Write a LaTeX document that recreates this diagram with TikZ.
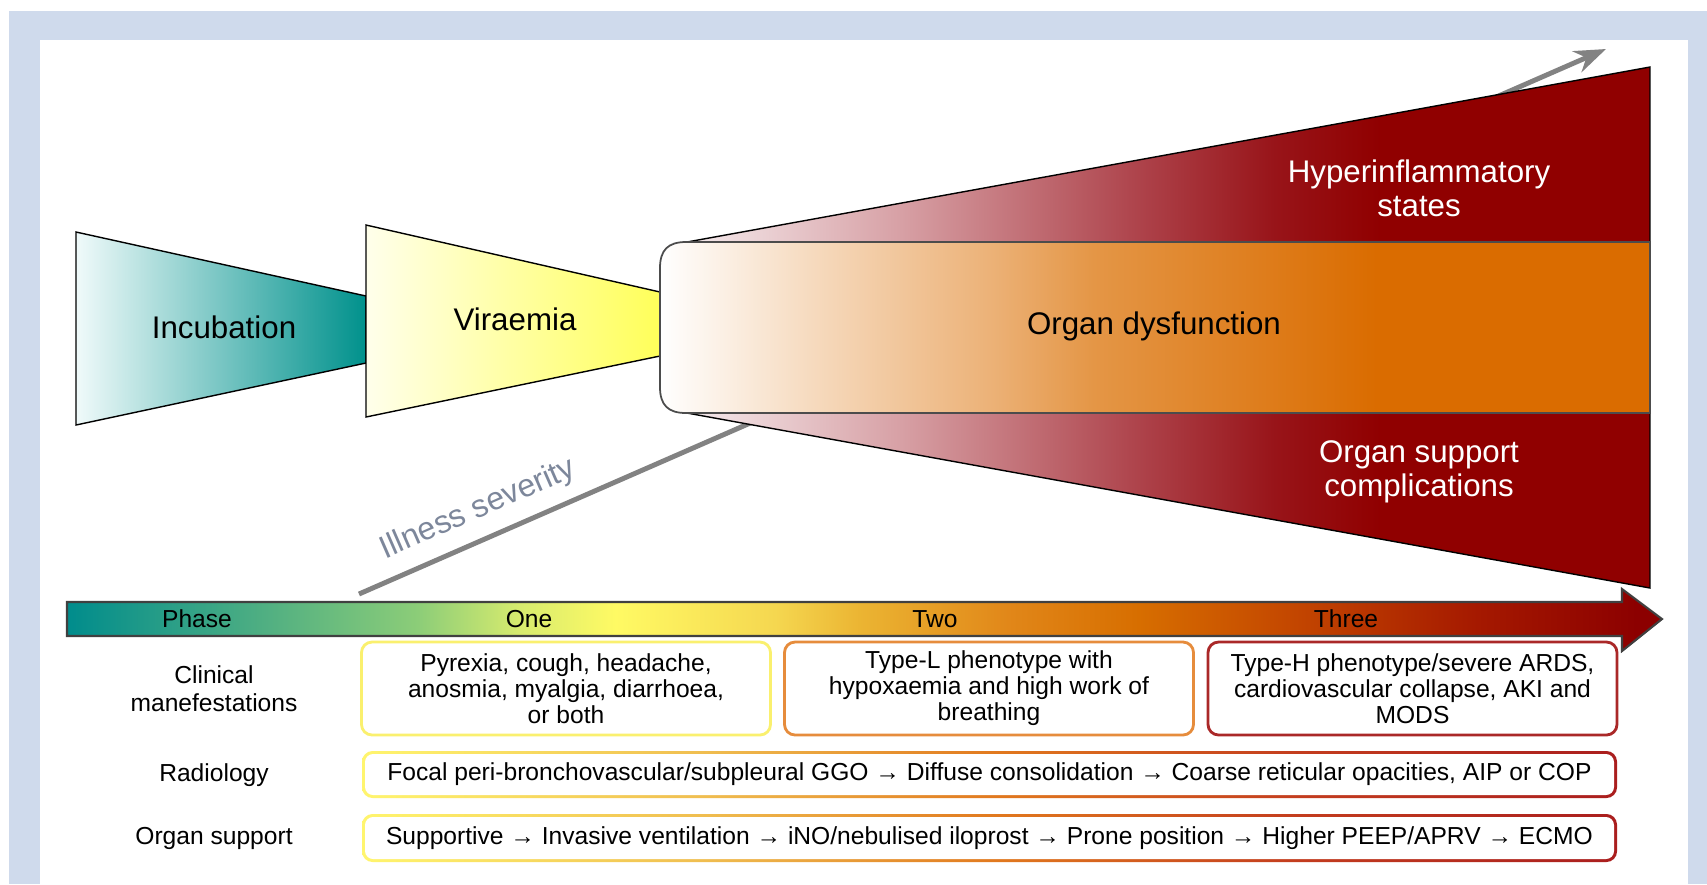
\documentclass[tikz,border=0pt]{standalone}
\usepackage{fontspec}
\setmainfont{Liberation Sans}
\usetikzlibrary{positioning, arrows.meta}

\definecolor{framebg}{RGB}{207,218,236}
\definecolor{sevgray}{RGB}{130,130,130}
\definecolor{sevtext}{RGB}{125,135,155}
\definecolor{incubL}{RGB}{240,250,250}
\definecolor{incubR}{RGB}{0,145,140}
\definecolor{viraL}{RGB}{255,255,235}
\definecolor{viraR}{RGB}{255,255,90}
\definecolor{fanA}{RGB}{245,235,237}
\definecolor{fanB}{RGB}{215,160,165}
\definecolor{fanC}{RGB}{175,70,78}
\definecolor{fanD}{RGB}{152,20,25}
\definecolor{dkred}{RGB}{144,0,0}
\definecolor{bandB}{RGB}{246,218,190}
\definecolor{bandC}{RGB}{236,178,120}
\definecolor{bandD}{RGB}{228,150,70}
\definecolor{orng}{RGB}{218,108,0}
\definecolor{phA}{RGB}{0,140,140}
\definecolor{phB}{RGB}{80,175,130}
\definecolor{phC}{RGB}{140,205,120}
\definecolor{phD}{RGB}{215,235,110}
\definecolor{phE}{RGB}{255,250,100}
\definecolor{phF}{RGB}{245,215,80}
\definecolor{phG}{RGB}{235,180,50}
\definecolor{phH}{RGB}{225,135,25}
\definecolor{phI}{RGB}{215,110,0}
\definecolor{phJ}{RGB}{195,70,0}
\definecolor{phK}{RGB}{165,25,0}
\definecolor{phL}{RGB}{140,0,0}
\definecolor{edgeA}{RGB}{255,245,110}
\definecolor{edgeB}{RGB}{240,190,80}
\definecolor{edgeC}{RGB}{225,120,30}
\definecolor{edgeD}{RGB}{195,60,30}
\definecolor{edgeE}{RGB}{170,30,30}
\definecolor{boxyellow}{RGB}{250,240,110}
\definecolor{boxorange}{RGB}{230,140,60}
\definecolor{boxred}{RGB}{170,40,40}

% path bounding box goes onto 25bp..75bp
\pgfdeclarehorizontalshading{incubshade}{100bp}{color(0bp)=(incubL); color(25bp)=(incubL); color(75bp)=(incubR); color(100bp)=(incubR)}
\pgfdeclarehorizontalshading{virashade}{100bp}{color(0bp)=(viraL); color(25bp)=(viraL); color(75bp)=(viraR); color(100bp)=(viraR)}
\pgfdeclarehorizontalshading{fanshade}{100bp}{color(0bp)=(fanA); color(25bp)=(fanA); color(36.1bp)=(fanB); color(48bp)=(fanC); color(55.5bp)=(fanD); color(61bp)=(dkred); color(100bp)=(dkred)}
\pgfdeclarehorizontalshading{bandshade}{100bp}{color(0bp)=(white); color(25bp)=(white); color(32.7bp)=(bandB); color(41.6bp)=(bandC); color(46.9bp)=(bandD); color(61.2bp)=(orng); color(100bp)=(orng)}
\pgfdeclarehorizontalshading{phaseshade}{100bp}{color(0bp)=(phA); color(25bp)=(phA); color(31.2bp)=(phB); color(36bp)=(phC); color(39.2bp)=(phD); color(42.2bp)=(phE); color(47.2bp)=(phF); color(49.9bp)=(phG); color(54.5bp)=(phH); color(58.6bp)=(phI); color(63.5bp)=(phJ); color(69.2bp)=(phK); color(74.2bp)=(phL); color(100bp)=(phL)}
\pgfdeclarehorizontalshading{edgeshade}{100bp}{color(0bp)=(edgeA); color(25bp)=(edgeA); color(38.5bp)=(edgeB); color(50.4bp)=(edgeC); color(62.4bp)=(edgeD); color(75bp)=(edgeE); color(100bp)=(edgeE)}

\tikzset{
    stage/.style={draw=black, line width=0.4pt},
    biglbl/.style={font=\fontsize{8.9}{9.7}\selectfont, align=center},
    whitelbl/.style={biglbl, text=white},
    smalllbl/.style={font=\fontsize{7}{7.4}\selectfont, align=center},
    rowlbl/.style={font=\fontsize{7}{8}\selectfont, align=center},
    clinbox/.style={smalllbl, rounded corners=3pt, line width=0.8pt, fill=white, minimum width=40.9mm, minimum height=9.3mm, inner sep=0pt},
    sevarrow/.style={draw=sevgray, line width=1.4pt, -{Stealth[length=9pt, width=6.5pt]}}
}

\begin{document}
\begin{tikzpicture}[x=0.1mm, y=-0.1mm]
    \useasboundingbox (0, 0) rectangle (1707, 884);
    \fill[framebg] (9, 11) rectangle (1707, 884);
    \fill[white] (40, 40) rectangle (1688, 884);

    % severity arrow goes behind the stages
    \coordinate (sevstart) at (359, 594);
    \coordinate (sevend) at (1606, 49);
    \draw[sevarrow] (sevstart) -- (sevend)
        node[pos=0.105, sloped, above, inner sep=3.5pt, text=sevtext, font=\fontsize{9.1}{10}\selectfont] (sevlbl) {Illness severity};

    \shade[stage, shading=incubshade] (76, 232) -- (366, 296) -- (366, 363) -- (76, 425) -- cycle;
    \shade[stage, shading=virashade] (366, 225) -- (660, 292) -- (660, 356) -- (366, 417) -- cycle;
    \shade[stage, shading=fanshade] (687, 242) -- (1650, 67) -- (1650, 588) -- (687, 413) -- cycle;
    \shade[draw=black!70, line width=0.5pt, shading=bandshade] (1650, 242) -- (686, 242)
        .. controls (668, 242) and (660, 250) .. (660, 268) -- (660, 387)
        .. controls (660, 405) and (668, 413) .. (686, 413) -- (1650, 413) -- cycle;

    \node[biglbl] at (224, 327) (incub) {Incubation};
    \node[biglbl] at (515, 319) (vira) {Viraemia};
    \node[biglbl] at (1154, 326) (organ) {Organ dysfunction};
    \node[whitelbl] at (1419, 188) (hyper) {Hyperinflammatory\\states};
    \node[whitelbl] at (1419, 472) (compl) {Organ support\\complications};

    % phase bar
    \shade[shading=phaseshade, draw=black!75, line width=0.6pt] (67, 602) -- (1622, 602) -- (1622, 589) -- (1662, 619) -- (1622, 651) -- (1622, 636) -- (67, 636) -- cycle;
    \node[smalllbl] at (197, 619) (phase) {Phase};
    \node[smalllbl] at (529, 619) (one) {One};
    \node[smalllbl] at (935, 619) (two) {Two};
    \node[smalllbl] at (1346, 619) (three) {Three};

    \node[rowlbl] at (214, 689) (clin) {Clinical\\manefestations};
    \node[rowlbl] at (214, 775) (radio) {Radiology};
    \node[rowlbl] at (214, 838) (support) {Organ support};

    \node[clinbox, draw=boxyellow] at (566, 688.5) (clinA) {Pyrexia, cough, headache,\\anosmia, myalgia, diarrhoea,\\or both};
    \node[clinbox, draw=boxorange] at (989, 688.5) (clinB) {Type-L phenotype with\\hypoxaemia and high work of\\breathing};
    \node[clinbox, draw=boxred] at (1412.5, 688.5) (clinC) {Type-H phenotype/severe ARDS,\\cardiovascular collapse, AKI and\\MODS};

    \shade[shading=edgeshade, rounded corners=3pt] (362, 751) rectangle (1617, 798);
    \fill[white, rounded corners=2.3pt] (365, 754) rectangle (1614, 795);
    \node[smalllbl] at (989.5, 774.5) (radioA) {Focal peri-bronchovascular/subpleural GGO → Diffuse consolidation → Coarse reticular opacities, AIP or COP};

    \shade[shading=edgeshade, rounded corners=3pt] (362, 814) rectangle (1617, 862);
    \fill[white, rounded corners=2.3pt] (365, 817) rectangle (1614, 859);
    \node[smalllbl] at (989.5, 838) (supportA) {Supportive → Invasive ventilation → iNO/nebulised iloprost → Prone position → Higher PEEP/APRV → ECMO};
\end{tikzpicture}
\end{document}
